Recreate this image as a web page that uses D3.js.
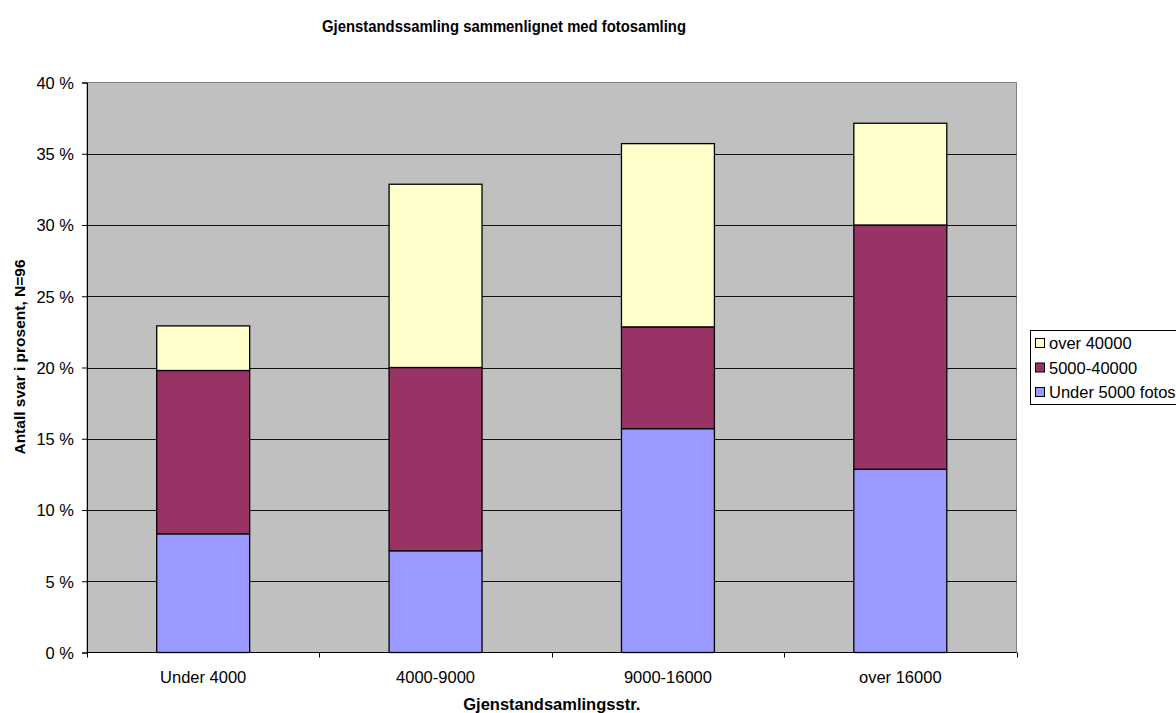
<!DOCTYPE html>
<html>
<head>
<meta charset="utf-8">
<script src="https://cdn.jsdelivr.net/npm/d3@7"></script>
<style>
  body { margin: 0; background: #fff; }
  text { font-family: "Liberation Sans", Arial, sans-serif; fill: #000; }
</style>
</head>
<body>
<div id="chart"></div>
<script>
//Data
let categories = ["Under 4000", "4000-9000", "9000-16000", "over 16000"];
let seriesNames = ["Under 5000 fotos", "5000-40000", "over 40000"]; //bottom to top
let under5000 = [8.33, 7.14, 15.71, 12.86];
let mid5000to40000 = [11.46, 12.86, 7.14, 17.14];
let over40000 = [3.13, 12.86, 12.86, 7.14];
let yTicks = [0, 5, 10, 15, 20, 25, 30, 35, 40];
let colors = ["#9999ff", "#993366", "#ffffcc"];

//Variables
let W = 1176, H = 713,
    margin = {top: 82.5, left: 87, right: 1176 - 1016.5, bottom: 713 - 652.5},
    width = W - margin.left - margin.right,
    height = H - margin.top - margin.bottom;

let svg = d3.select("#chart").append("svg")
  .attr("width", W)
  .attr("height", H);

let rows = categories.map((c, i) => ({cat: c, s0: under5000[i], s1: mid5000to40000[i], s2: over40000[i]}));
let stacked = d3.stack().keys(["s0", "s1", "s2"])(rows);

let x = d3.scaleBand().domain(categories).range([margin.left, margin.left + width]).paddingInner(0).paddingOuter(0);
let y = d3.scaleLinear().domain([0, 40]).range([margin.top + height, margin.top]);
let barW = x.bandwidth() * 0.4;

//Plot background
svg.append("rect")
  .attr("x", margin.left).attr("y", margin.top)
  .attr("width", width).attr("height", height)
  .attr("fill", "#c0c0c0")
  .attr("stroke", "#808080").attr("stroke-width", 1);

//Gridlines
svg.append("g").selectAll("line")
  .data(yTicks.filter(t => t > 0 && t < 40))
  .enter().append("line")
    .attr("x1", margin.left).attr("x2", margin.left + width)
    .attr("y1", d => Math.round(y(d)) + 0.5).attr("y2", d => Math.round(y(d)) + 0.5)
    .attr("stroke", "#111").attr("stroke-width", 1);

//Bars
svg.append("g").selectAll("g")
  .data(stacked)
  .enter().append("g")
    .attr("fill", (d, i) => colors[i])
  .selectAll("rect")
  .data(d => d)
  .enter().append("rect")
    .attr("x", d => x(d.data.cat) + (x.bandwidth() - barW) / 2)
    .attr("y", d => y(d[1]))
    .attr("width", barW)
    .attr("height", d => y(d[0]) - y(d[1]))
    .attr("stroke", "#000").attr("stroke-width", 1.3);

//Y axis
let yAxis = svg.append("g")
  .attr("transform", "translate(" + margin.left + ",0)")
  .call(d3.axisLeft(y).tickValues(yTicks).tickSize(5).tickPadding(8).tickFormat(d => d + " %"));
yAxis.select(".domain").attr("stroke", "#000");
yAxis.selectAll(".tick line").attr("stroke", "#000");
yAxis.selectAll("text").style("font-size", "16.5px").attr("dy", "0.36em");

//X axis
let xAxis = svg.append("g")
  .attr("transform", "translate(0," + (margin.top + height) + ")");
xAxis.append("line")
  .attr("x1", margin.left).attr("x2", margin.left + width)
  .attr("stroke", "#000");
xAxis.selectAll(".xt")
  .data(d3.range(categories.length + 1))
  .enter().append("line")
    .attr("class", "xt")
    .attr("x1", i => Math.round(margin.left + i * x.bandwidth()) + 0.5)
    .attr("x2", i => Math.round(margin.left + i * x.bandwidth()) + 0.5)
    .attr("y1", 0).attr("y2", 5)
    .attr("stroke", "#000");
xAxis.selectAll(".xl")
  .data(categories)
  .enter().append("text")
    .attr("class", "xl")
    .attr("x", d => x(d) + x.bandwidth() / 2)
    .attr("y", 30)
    .attr("text-anchor", "middle")
    .style("font-size", "16.5px")
    .text(d => d);

//Titles (Excel title is a narrow bold face, so squeeze it to its measured width)
svg.append("text")
  .attr("x", 504).attr("y", 32)
  .attr("text-anchor", "middle")
  .attr("textLength", 364).attr("lengthAdjust", "spacingAndGlyphs")
  .style("font-size", "17px").style("font-weight", "bold")
  .text("Gjenstandssamling sammenlignet med fotosamling");

svg.append("text")
  .attr("x", margin.left + width / 2).attr("y", 710)
  .attr("text-anchor", "middle")
  .style("font-size", "16.5px").style("font-weight", "bold")
  .text("Gjenstandsamlingsstr.");

svg.append("text")
  .attr("transform", "translate(25,357) rotate(-90)")
  .attr("text-anchor", "middle")
  .style("font-size", "15.5px").style("font-weight", "bold")
  .text("Antall svar i prosent, N=96");

//Legend (top to bottom: last series first)
let legend = svg.append("g").attr("transform", "translate(1030,330)");
legend.append("rect")
  .attr("x", 0.5).attr("y", 0.5).attr("width", 170).attr("height", 74)
  .attr("fill", "#fff").attr("stroke", "#000");
let items = seriesNames.map((n, i) => ({name: n, color: colors[i]})).reverse();
let li = legend.selectAll(".li")
  .data(items)
  .enter().append("g")
    .attr("class", "li")
    .attr("transform", (d, i) => "translate(0," + (13 + i * 24.5) + ")");
li.append("rect")
  .attr("x", 5.5).attr("y", -4.5).attr("width", 9).attr("height", 9)
  .attr("fill", d => d.color).attr("stroke", "#000");
li.append("text")
  .attr("x", 19).attr("y", 6)
  .style("font-size", "16.5px")
  .text(d => d.name);
</script>
</body>
</html>
